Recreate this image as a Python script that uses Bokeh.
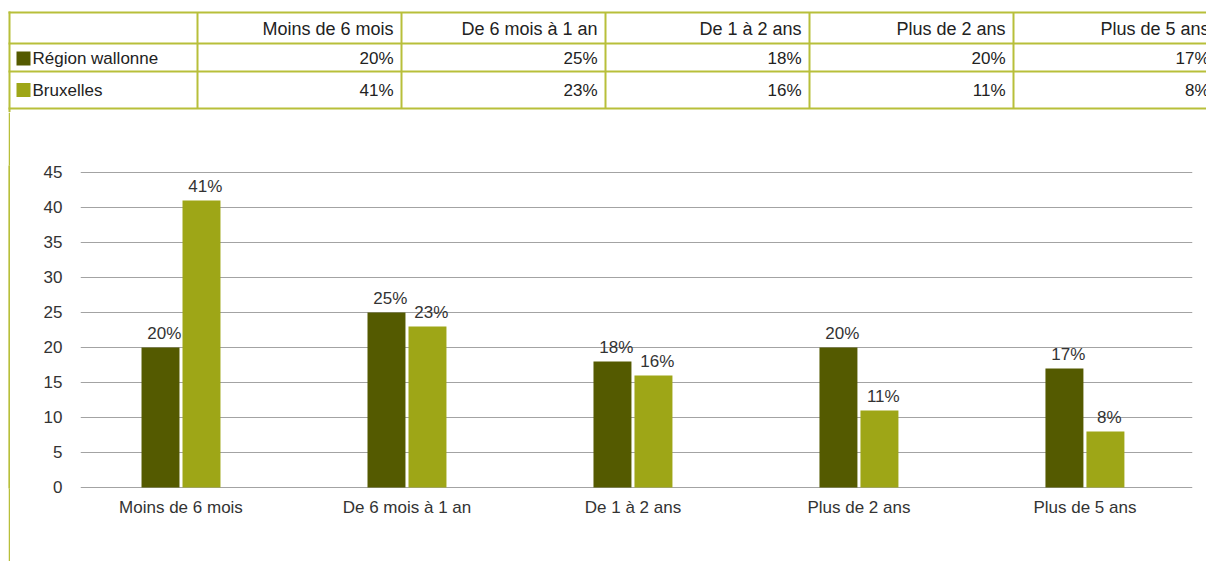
import numpy as np
from bokeh.plotting import figure
from bokeh.layouts import column, row, Spacer
from bokeh.models import Range1d, FixedTicker, ColumnDataSource
from bokeh.embed import file_html
from bokeh.resources import INLINE
from bokeh.core.properties import value

# ---------------- data ----------------
categories = ["Moins de 6 mois", "De 6 mois à 1 an", "De 1 à 2 ans", "Plus de 2 ans", "Plus de 5 ans"]
series_names = ["Région wallonne", "Bruxelles"]
wallonie = [20, 25, 18, 20, 17]
bruxelles = [41, 23, 16, 11, 8]
y_ticks = [0, 5, 10, 15, 20, 25, 30, 35, 40, 45]

# ---------------- style ----------------
DARK = "#545a00"
LIGHT = "#9ea617"
BORDER = "#b8bf3a"
GRID = "#a3a3a3"
TEXT = "#333333"
FONT = "Liberation Sans"
FS = "17px"

W = 1206
TH = 112
CH = 449
PAD = 8
STRIP = 2

# ---------------- table figure ----------------
t = figure(width=W, height=TH, x_range=Range1d(0, W), y_range=Range1d(TH, 0),
           output_backend="svg", toolbar_location=None, min_border=0,
           x_axis_location=None, y_axis_location=None)
t.grid.visible = False
t.outline_line_color = None

row_lines = [12, 43, 71, 108]
first_col = 197
col_w = 204
col_lines = [first_col + col_w * k for k in range(len(categories))]

t.segment(x0=[8] * len(row_lines), y0=row_lines, x1=[W] * len(row_lines), y1=row_lines,
          line_color=BORDER, line_width=2)
t.segment(x0=col_lines, y0=[12] * len(col_lines), x1=col_lines, y1=[108] * len(col_lines),
          line_color=BORDER, line_width=2)
t.segment(x0=[9], y0=[11], x1=[9], y1=[TH], line_color=BORDER, line_width=2)

col_right = [c + col_w - 8 for c in col_lines]
t.text(x=col_right, y=[28] * len(categories), text=categories, text_align="right",
       text_baseline="middle", text_font=value(FONT), text_font_size="18px", text_color="#222222")

row_y = [58, 89.5]
t.rect(x=[23, 23], y=row_y, width=14, height=14, fill_color=[DARK, LIGHT], line_color=None)
t.text(x=[32, 32], y=row_y, text=series_names, text_align="left", text_baseline="middle",
       text_font=value(FONT), text_font_size=FS, text_color="#222222")
for vals, yy in zip([wallonie, bruxelles], row_y):
    t.text(x=col_right, y=[yy] * len(vals), text=[f"{v}%" for v in vals], text_align="right",
           text_baseline="middle", text_font=value(FONT), text_font_size=FS, text_color="#222222")

# ---------------- left border strip ----------------
lf = figure(width=STRIP, height=CH, x_range=Range1d(0, 1), y_range=Range1d(0, 1),
            output_backend="svg", toolbar_location=None, min_border=0,
            x_axis_location=None, y_axis_location=None)
lf.grid.visible = False
lf.outline_line_color = None
lf.background_fill_color = BORDER
lf.border_fill_color = BORDER
lf.quad(left=[0], right=[1], bottom=[0], top=[1], fill_color=BORDER, line_color=None)

# ---------------- chart figure ----------------
xs = np.arange(len(categories))
off = 0.0907
bw = 0.168
src = ColumnDataSource(dict(xd=xs - off, xl=xs + off, w=wallonie, b=bruxelles))

c = figure(width=W - PAD - STRIP, height=CH, x_range=Range1d(-0.4447, 4.476), y_range=Range1d(-0.15, 46),
           output_backend="svg", toolbar_location=None,
           min_border_left=70, min_border_right=14, min_border_top=53, min_border_bottom=73)
c.outline_line_color = None
c.xgrid.visible = False
c.ygrid.ticker = FixedTicker(ticks=y_ticks)
c.ygrid.grid_line_color = GRID
c.ygrid.grid_line_width = 1

c.vbar(x="xd", top="w", width=bw, bottom=0, source=src, fill_color=DARK, line_color=None)
c.vbar(x="xl", top="b", width=bw, bottom=0, source=src, fill_color=LIGHT, line_color=None)

lbl_dx = 0.017
c.text(x=xs - off + lbl_dx, y=wallonie, text=[f"{v}%" for v in wallonie], text_align="center",
       text_baseline="alphabetic", y_offset=-14, text_font=value(FONT), text_font_size=FS,
       text_color=TEXT)
c.text(x=xs + off + lbl_dx, y=bruxelles, text=[f"{v}%" for v in bruxelles], text_align="center",
       text_baseline="alphabetic", y_offset=-14, text_font=value(FONT), text_font_size=FS,
       text_color=TEXT)

c.yaxis.ticker = FixedTicker(ticks=y_ticks)
c.xaxis.ticker = FixedTicker(ticks=list(xs))
c.xaxis.major_label_overrides = {int(i): cat for i, cat in zip(xs, categories)}
for ax in (c.xaxis, c.yaxis):
    ax.axis_line_color = None
    ax.major_tick_line_color = None
    ax.minor_tick_line_color = None
    ax.major_tick_out = 0
    ax.major_tick_in = 0
    ax.major_label_text_font = FONT
    ax.major_label_text_font_size = FS
    ax.major_label_text_color = TEXT
c.yaxis.major_label_standoff = 18
c.xaxis.major_label_standoff = 9

layout = column(t, row(Spacer(width=PAD, height=CH), lf, c, spacing=0), spacing=0)

open("out.html", "w").write(file_html(layout, INLINE))
